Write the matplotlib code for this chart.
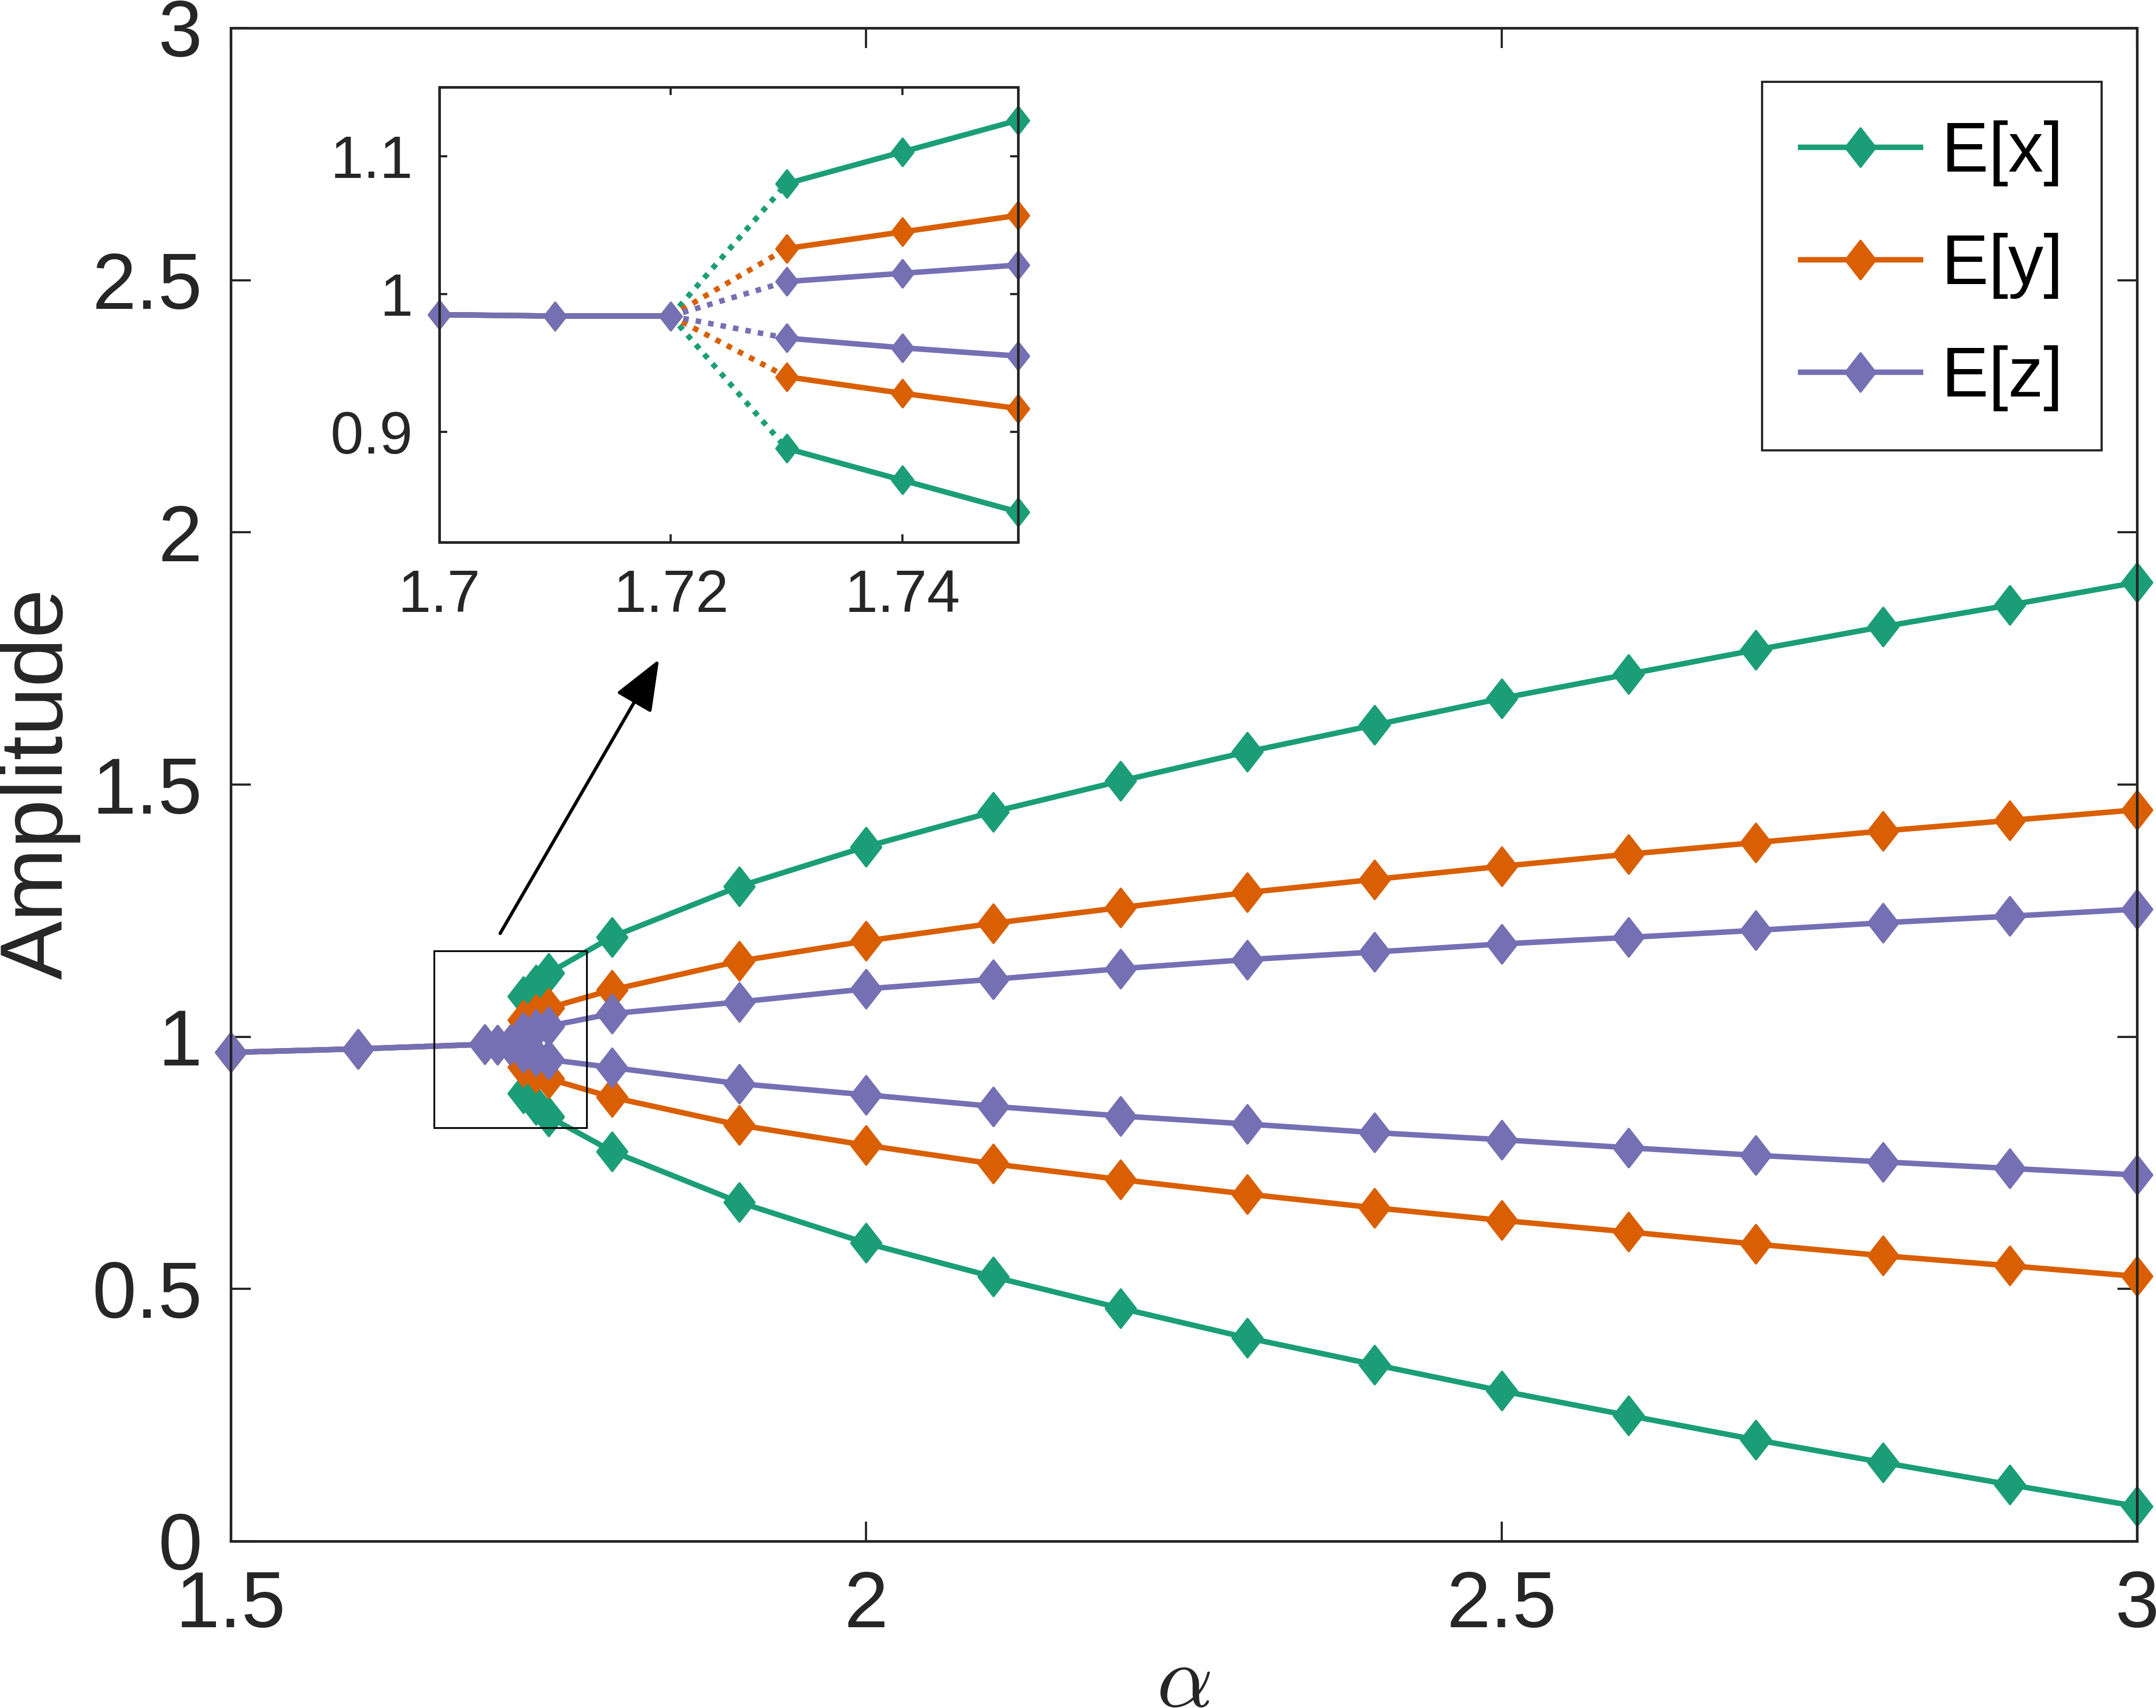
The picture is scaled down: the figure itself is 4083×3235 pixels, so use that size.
import matplotlib.pyplot as plt
from matplotlib.lines import Line2D
from matplotlib.path import Path
from matplotlib.patches import Rectangle
import numpy as np

# bifurcation data
alpha_pre = [1.5, 1.6, 1.7, 1.71, 1.72]
amp_pre = [0.969, 0.976, 0.985, 0.984, 0.984]
alpha_post = [1.73, 1.74, 1.75, 1.8, 1.9, 2.0, 2.1, 2.2, 2.3, 2.4, 2.5, 2.6, 2.7, 2.8, 2.9, 3.0]

ex_hi = [1.080, 1.103, 1.126, 1.198, 1.298, 1.377, 1.446, 1.507, 1.565, 1.618, 1.671, 1.719, 1.767, 1.813, 1.856, 1.901]
ex_lo = [0.888, 0.865, 0.842, 0.773, 0.672, 0.591, 0.524, 0.462, 0.403, 0.350, 0.298, 0.249, 0.201, 0.156, 0.112, 0.069]
ey_hi = [1.033, 1.045, 1.057, 1.093, 1.150, 1.190, 1.225, 1.256, 1.286, 1.312, 1.338, 1.362, 1.385, 1.408, 1.429, 1.450]
ey_lo = [0.940, 0.928, 0.917, 0.880, 0.825, 0.785, 0.748, 0.717, 0.688, 0.661, 0.636, 0.613, 0.589, 0.566, 0.546, 0.525]
ez_hi = [1.009, 1.015, 1.021, 1.046, 1.069, 1.095, 1.114, 1.135, 1.153, 1.168, 1.184, 1.197, 1.211, 1.226, 1.239, 1.253]
ez_lo = [0.968, 0.961, 0.955, 0.939, 0.907, 0.885, 0.862, 0.843, 0.827, 0.810, 0.796, 0.780, 0.765, 0.752, 0.739, 0.726]

labels = ['E[x]', 'E[y]', 'E[z]']
colors = ['#1b9e77', '#d95f02', '#7570b3']
branches = [(ex_hi, ex_lo), (ey_hi, ey_lo), (ez_hi, ez_lo)]

plt.rcParams['font.family'] = ['Liberation Sans', 'DejaVu Sans']
plt.rcParams['mathtext.fontset'] = 'cm'
axcol = '#262626'

# MATLAB-like tall diamond
diamond = Path([(0, 1), (0.78, 0), (0, -1), (-0.78, 0), (0, 1)],
               [Path.MOVETO, Path.LINETO, Path.LINETO, Path.LINETO, Path.CLOSEPOLY])

W, H = 4083, 3235
fig = plt.figure(figsize=(W / 300, H / 300), dpi=300)
ax = fig.add_axes([437 / W, 316 / H, 3610 / W, 2866 / H])


def draw(a, ms, xmin, xmax):
    xp = np.array(alpha_pre)
    yp = np.array(amp_pre)
    xq = np.array(alpha_post)
    mp = (xp >= xmin) & (xp <= xmax)
    mq = (xq >= xmin) & (xq <= xmax)
    for (hi, lo), c in zip(branches, colors):
        a.plot(xp[mp], yp[mp], '-', color=c, lw=2.5, marker=diamond, ms=ms,
               mew=1.0, clip_on=False)
        for br in (hi, lo):
            br = np.array(br)
            a.plot([xp[-1], xq[0]], [yp[-1], br[0]], color=c, lw=2.5,
                   dashes=(1, 1.3))
            a.plot(xq[mq], br[mq], '-', color=c, lw=2.5, marker=diamond, ms=ms,
                   mew=1.0, clip_on=False)


draw(ax, 17.5, 1.5, 3.0)

ax.set_xlim(1.5, 3)
ax.set_ylim(0, 3)
ax.set_xticks([1.5, 2, 2.5, 3])
ax.set_xticklabels(['1.5', '2', '2.5', '3'])
ax.set_yticks([0, 0.5, 1, 1.5, 2, 2.5, 3])
ax.set_yticklabels(['0', '0.5', '1', '1.5', '2', '2.5', '3'])
ax.tick_params(direction='in', length=9, width=1.0, top=True, right=True,
               labelsize=36, pad=13, colors=axcol)
for sp in ax.spines.values():
    sp.set_linewidth(1.2)
    sp.set_color(axcol)

# zoom box and arrow
ax.add_patch(Rectangle((1.66, 0.82), 0.12, 0.35, fill=False, ec='k', lw=0.8, zorder=5))
ax.annotate('', xy=(1.837, 1.748), xytext=(1.712, 1.205),
            arrowprops=dict(arrowstyle='-|>,head_length=0.8,head_width=0.32',
                            mutation_scale=25, lw=1.5, color='k',
                            shrinkA=0, shrinkB=0))

handles = [Line2D([], [], color=c, lw=2.5, marker=diamond, ms=17.5, mew=1.0)
           for c in colors]
leg = ax.legend(handles, labels, loc='upper right',
                bbox_to_anchor=(3980 / W, 1 - 155 / H), bbox_transform=fig.transFigure,
                fontsize=32, frameon=True, fancybox=False, edgecolor=axcol,
                framealpha=1, numpoints=1, handlelength=1.7, handletextpad=0.3,
                labelspacing=0.66, borderpad=0.55, borderaxespad=0)
leg.get_frame().set_linewidth(1.0)

fig.text(153 / W, 1 - 1485 / H, 'Amplitude', rotation=90, rotation_mode='anchor',
         ha='center', va='bottom', fontsize=40, color=axcol)
fig.text(2241 / W, 3 / H, r'$\alpha$', ha='center', va='baseline', fontsize=40,
         color=axcol)

# inset
axin = fig.add_axes([832 / W, 1 - 1027 / H, 1096 / W, 862 / H])
draw(axin, 12.5, 1.70, 1.75)
axin.set_xlim(1.70, 1.75)
axin.set_ylim(0.82, 1.15)
axin.set_xticks([1.7, 1.72, 1.74])
axin.set_xticklabels(['1.7', '1.72', '1.74'])
axin.set_yticks([0.9, 1, 1.1])
axin.set_yticklabels(['0.9', '1', '1.1'])
axin.tick_params(direction='in', length=3.5, width=1.0, top=True, right=True,
                 labelsize=27, pad=12, colors=axcol)
for sp in axin.spines.values():
    sp.set_linewidth(1.2)
    sp.set_color(axcol)

fig.savefig('out.png', dpi=300)
